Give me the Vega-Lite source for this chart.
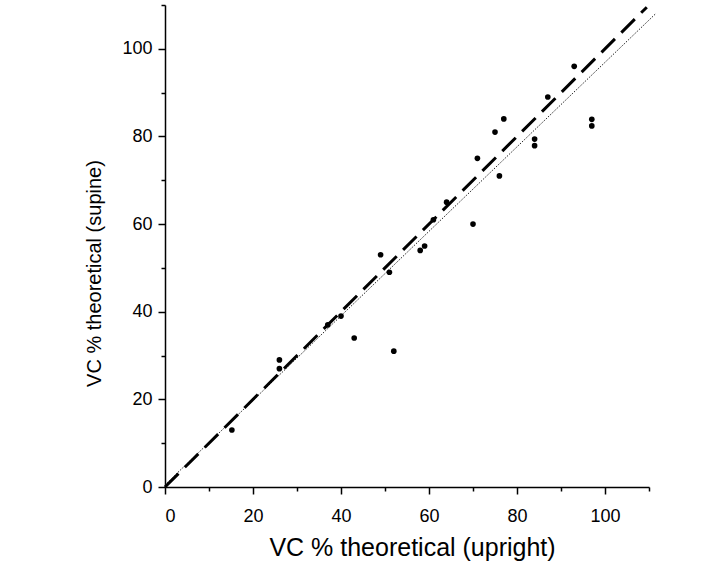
{
  "$schema": "https://vega.github.io/schema/vega-lite/v6.json",
  "width": 484,
  "height": 482,
  "autosize": {"type": "none"},
  "padding": {"left": 165, "top": 5, "right": 60, "bottom": 75},
  "background": "white",
  "config": {
    "view": {"stroke": null},
    "font": "Liberation Sans",
    "axis": {
      "grid": false,
      "domainColor": "black",
      "domainWidth": 1.5,
      "tickColor": "black",
      "tickWidth": 1.5,
      "labelFontSize": 18,
      "labelColor": "black",
      "labelFont": "Liberation Sans",
      "titleFont": "Liberation Sans",
      "titleFontWeight": "normal",
      "titleColor": "black"
    }
  },
  "datasets": {
    "points": [
      {"upright": 15.2, "supine": 13},
      {"upright": 26, "supine": 29},
      {"upright": 26, "supine": 27},
      {"upright": 37, "supine": 37},
      {"upright": 40, "supine": 39},
      {"upright": 43, "supine": 34},
      {"upright": 52, "supine": 31},
      {"upright": 49, "supine": 53},
      {"upright": 51, "supine": 49},
      {"upright": 58, "supine": 54},
      {"upright": 59, "supine": 55},
      {"upright": 61, "supine": 61},
      {"upright": 64, "supine": 65},
      {"upright": 70, "supine": 60},
      {"upright": 71, "supine": 75},
      {"upright": 75, "supine": 81},
      {"upright": 77, "supine": 84},
      {"upright": 76, "supine": 71},
      {"upright": 84, "supine": 79.4},
      {"upright": 84, "supine": 77.9},
      {"upright": 87, "supine": 89},
      {"upright": 93, "supine": 96},
      {"upright": 97, "supine": 83.9},
      {"upright": 97, "supine": 82.4}
    ],
    "identity": [
      {"upright": 0, "supine": 0},
      {"upright": 109.5, "supine": 109.5}
    ],
    "fit": [
      {"upright": 0, "supine": 0.5},
      {"upright": 111.6, "supine": 108.1}
    ]
  },
  "layer": [
    {
      "data": {"name": "fit"},
      "mark": {"type": "line", "color": "#222222", "strokeWidth": 1, "strokeDash": [1.5, 1.5], "clip": false},
      "encoding": {
        "x": {
          "field": "upright", "type": "quantitative",
          "scale": {"domain": [0, 110], "nice": false, "zero": true},
          "axis": {
            "title": "VC % theoretical (upright)",
            "titleFontSize": 25,
            "titlePadding": 10,
            "titleX": 247,
            "values": [0, 10, 20, 30, 40, 50, 60, 70, 80, 90, 100, 110],
            "labelExpr": "datum.value % 20 === 0 && datum.value <= 100 ? datum.label : ''",
            "tickSize": {"condition": {"test": "datum.value % 20 === 0", "value": 7}, "value": 4},
            "labelPadding": 13
          }
        },
        "y": {
          "field": "supine", "type": "quantitative",
          "scale": {"domain": [0, 110], "nice": false, "zero": true},
          "axis": {
            "title": "VC % theoretical (supine)",
            "titleFontSize": 20,
            "titlePadding": 17,
            "titleY": 268,
            "values": [0, 10, 20, 30, 40, 50, 60, 70, 80, 90, 100, 110],
            "labelExpr": "datum.value % 20 === 0 && datum.value <= 100 ? datum.label : ''",
            "tickSize": {"condition": {"test": "datum.value % 20 === 0", "value": 7}, "value": 4},
            "labelPadding": 6
          }
        }
      }
    },
    {
      "data": {"name": "identity"},
      "mark": {"type": "line", "color": "black", "strokeWidth": 3, "strokeDash": [19, 9], "clip": false},
      "encoding": {
        "x": {"field": "upright", "type": "quantitative"},
        "y": {"field": "supine", "type": "quantitative"}
      }
    },
    {
      "data": {"name": "points"},
      "mark": {"type": "point", "shape": "circle", "filled": true, "color": "black", "opacity": 1, "size": 32},
      "encoding": {
        "x": {"field": "upright", "type": "quantitative"},
        "y": {"field": "supine", "type": "quantitative"}
      }
    }
  ]
}
